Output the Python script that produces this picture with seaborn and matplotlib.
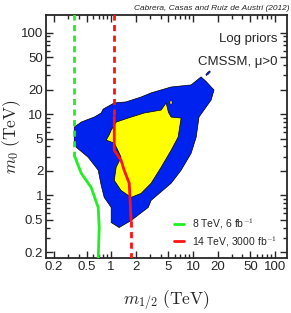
"""
plot.py
- CMSSM log-prior credible regions in the (m1/2, m0) plane with LHC reach lines
"""

import matplotlib
matplotlib.use("Agg")
import matplotlib.pyplot as plt
import matplotlib.ticker as mticker
import seaborn as sns
import numpy as np
import pandas as pd

# 95% region (blue), m1/2 and m0 in TeV
blue_m12 = [0.354, 0.354, 0.431, 0.496, 0.621, 0.755, 0.798, 1.09, 1.52, 2.32, 3.07,
            5.39, 9.46, 12.5, 14.5, 16.6, 18.0, 16.6, 11.8, 10.9, 9.46, 7.14, 5.39,
            3.07, 2.83, 1.75, 1.25, 1.0, 1.0, 0.822, 0.755, 0.694, 0.524, 0.374]
blue_m0 = [4.78, 6.91, 7.96, 8.43, 9.18, 10.3, 11.5, 13.7, 14.1, 16.2, 18.2,
           21.5, 22.8, 28.6, 25.0, 21.5, 19.8, 14.9, 9.18, 5.20, 3.30, 2.04, 1.41,
           0.868, 0.711, 0.491, 0.403, 0.464, 0.711, 0.945, 1.33, 2.04, 2.94, 3.91]
island_m12 = [14.3, 15.0, 16.0, 16.2, 15.4, 14.5]
island_m0 = [30.5, 32.5, 34.0, 32.8, 31.0, 29.8]

# 68% region (yellow)
yellow_m12 = [1.0, 1.15, 1.61, 2.53, 4.07, 4.69, 5.0, 5.39, 7.14, 6.56, 5.39, 4.07,
              3.07, 2.32, 1.75, 1.32, 1.09, 1.15, 1.32, 1.22, 1.09, 0.869, 0.95]
yellow_m0 = [6.34, 7.96, 8.93, 10.3, 11.2, 13.7, 10.5, 9.18, 8.93, 5.20, 3.59, 2.22,
             1.41, 1.06, 0.945, 1.15, 1.53, 2.22, 2.94, 3.5, 4.39, 4.78, 5.6]
dot_m12 = [5.25, 5.55, 5.55, 5.25]
dot_m0 = [13.3, 13.3, 14.3, 14.3]

# LHC reach: 8 TeV, 6 fb^-1 (green)
green_m12 = [0.354, 0.374, 0.431, 0.570, 0.694, 0.714, 0.694]
green_m0 = [3.12, 2.70, 1.87, 1.25, 0.711, 0.403, 0.167]
green_dash_m12 = [0.354, 0.354]
green_dash_m0 = [170, 3.12]

# LHC reach: 14 TeV, 3000 fb^-1 (red)
red_m12 = [1.09, 1.09, 1.32, 1.44, 1.66, 1.75]
red_m0 = [9.18, 3.59, 2.70, 2.04, 1.41, 0.491]
red_dash_top_m12 = [1.09, 1.09]
red_dash_top_m0 = [170, 9.18]
red_dash_bot_m12 = [1.75, 1.75]
red_dash_bot_m0 = [0.491, 0.15]

tick_vals = [0.2, 0.5, 1, 2, 5, 10, 20, 50, 100]
tick_labels = ["0.2", "0.5", "1", "2", "5", "10", "20", "50", "100"]

sns.set_style("ticks")
plt.rcParams["font.family"] = ["Liberation Sans", "DejaVu Sans"]
plt.rcParams["mathtext.fontset"] = "cm"

fig = plt.figure(figsize=(2.91, 3.13), dpi=100)
ax = fig.add_axes([46 / 291, 55 / 313, 241 / 291, 243 / 313])
ax.set_xscale("log")
ax.set_yscale("log")

ax.fill(blue_m12, blue_m0, color="#0022ee", ec="black", lw=0.5, zorder=1)
ax.fill(island_m12, island_m0, color="#0022ee", ec="black", lw=0.4, zorder=1)
ax.fill(yellow_m12, yellow_m0, color="#ffff00", ec="black", lw=0.5, zorder=2)
ax.fill(dot_m12, dot_m0, color="#ffff00", ec="black", lw=0.3, zorder=2)

green = "#22ee22"
red = "#ff1111"
dash = (0, (2.2, 1.6))
sns.lineplot(x=green_m12, y=green_m0, sort=False, estimator=None, color=green, lw=2,
             ax=ax, label="8 TeV, 6 fb$^{-1}$", zorder=3)
sns.lineplot(x=red_m12, y=red_m0, sort=False, estimator=None, color=red, lw=2,
             ax=ax, label="14 TeV, 3000 fb$^{-1}$", zorder=3)
ax.plot(green_dash_m12, green_dash_m0, color=green, lw=2, ls=dash, zorder=3)
ax.plot(red_dash_top_m12, red_dash_top_m0, color=red, lw=2, ls=dash, zorder=3)
ax.plot(red_dash_bot_m12, red_dash_bot_m0, color=red, lw=2, ls=dash, zorder=3)

ax.set_xlim(0.16, 140)
ax.set_ylim(0.17, 165)
for axis in (ax.xaxis, ax.yaxis):
    axis.set_major_locator(mticker.FixedLocator(tick_vals))
    axis.set_major_formatter(mticker.FixedFormatter(tick_labels))
    axis.set_minor_locator(mticker.LogLocator(base=10, subs=np.arange(1, 10), numticks=20))
    axis.set_minor_formatter(mticker.NullFormatter())
ax.tick_params(which="both", direction="in", top=True, right=True, labelsize=9.5, width=1, pad=2)
ax.tick_params(which="major", length=5)
ax.tick_params(which="minor", length=3)
for s in ax.spines.values():
    s.set_linewidth(1.3)

ax.set_xlabel(r"$m_{1/2}\ (\mathrm{TeV})$", fontsize=12.5)
ax.xaxis.set_label_coords(0.5, -0.125)
ax.set_ylabel(r"$m_0\ (\mathrm{TeV})$", fontsize=12.5)
ax.yaxis.set_label_coords(-0.095, 0.5)

ax.text(0.96, 0.90, "Log priors", transform=ax.transAxes, ha="right", va="center", fontsize=9.5)
ax.text(0.96, 0.805, "CMSSM, μ>0", transform=ax.transAxes, ha="right", va="center", fontsize=9.5)
fig.text(0.995, 0.985, "Cabrera, Casas and Ruiz de Austri (2012)", ha="right", va="top",
         fontsize=6, style="italic")

leg = ax.legend(loc="lower right", frameon=False, fontsize=7.5, handlelength=1.0,
                handletextpad=0.8, borderaxespad=0.5, labelspacing=0.3)

plt.savefig("out.png", dpi=100)
plt.close()
